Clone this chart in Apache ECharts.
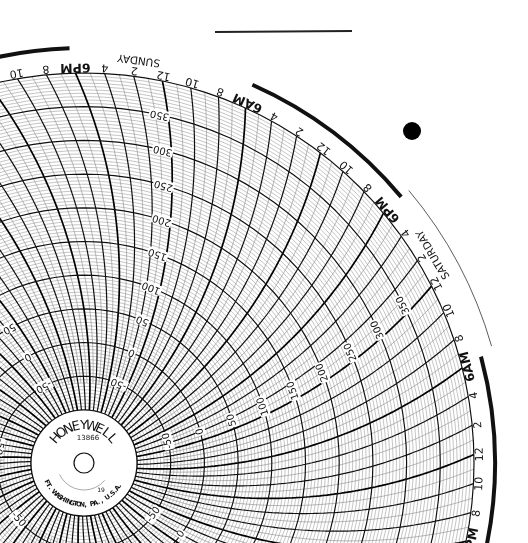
<!DOCTYPE html>
<html><head><meta charset="utf-8">
<script src="https://cdn.jsdelivr.net/npm/echarts@6/dist/echarts.min.js"></script>
<style>html,body{margin:0;padding:0;background:#fff}#c{width:528px;height:543px}</style>
</head><body><div id="c"></div>
<script>
// ---- data ----
const days = ['SUNDAY','MONDAY','TUESDAY','WEDNESDAY','THURSDAY','FRIDAY','SATURDAY'];
const radiusTickLabels = [-50,0,50,100,150,200,250,300,350];
const radiusMin = -100, radiusMax = 400;
const hoursPerChart = 168;
const sundayNoonAngle = 78.4;   // degrees, outer rim position of Sunday 12 noon

// ---- geometry helpers ----
const CX = 84, CY = 463, R_IN = 53, R_OUT = 390, RC = 500;
const pxPerUnit = (R_OUT - R_IN) / (radiusMax - radiusMin);
const axisMax = 440;
const R_AX = R_IN + (axisMax - radiusMin) * pxPerUnit;
function rpx(v){ return R_IN + (v - radiusMin) * pxPerUnit; }
function outerAngle(t){ return sundayNoonAngle + t * 360 / hoursPerChart; }
function curveAngle(t, v){
  const r = Math.max(rpx(v), 0.1);
  const off = (Math.acos(r/(2*RC)) - Math.acos(R_OUT/(2*RC))) * 180/Math.PI;
  return outerAngle(t) - off;
}
function timeLine(t, vStart){
  const pts = [];
  for (let v = vStart; v <= radiusMax; v += 5) pts.push([v, curveAngle(t, v)]);
  pts.push(null);
  return pts;
}
function circle(v){
  const pts = [];
  for (let a = 0; a <= 360; a += 3) pts.push([v, a]);
  pts.push(null);
  return pts;
}
function hourLabel(t){
  const h = ((12 + t) % 24 + 24) % 24;
  if (h === 0 || h === 12) return '12';
  if (h === 6) return '6AM';
  if (h === 18) return '6PM';
  return String(h % 12);
}
// ---- build series data ----
let fineCircles = [], boldCircles = [];
for (let v = radiusMin; v <= radiusMax; v += 5) {
  if (v % 50 === 0) boldCircles = boldCircles.concat(circle(v));
  else fineCircles = fineCircles.concat(circle(v));
}
let fineTime = [], twoHour = [], sixHour = [];
for (let t = 0; t < hoursPerChart; t++) {
  if (t % 6 === 0) sixHour = sixHour.concat(timeLine(t, radiusMin));
  else if (t % 2 === 0) twoHour = twoHour.concat(timeLine(t, radiusMin));
  else fineTime = fineTime.concat(timeLine(t, -60));
}
const labels = [];
for (let t = 0; t < hoursPerChart; t += 2) {
  const a = outerAngle(t);
  const txt = hourLabel(t);
  labels.push({value:[radiusMax + 9, a], txt, size: txt.length > 2 ? 12.5 : 11, bold: txt.length > 2});
}
for (let d = 0; d < 7; d++) {
  const t = d * 24 + 1.8;
  labels.push({value:[radiusMax + 25, outerAngle(t)], txt: days[d], size: 10.5, bold:false});
}
for (let d = 0; d < 7; d++) {
  for (const v of radiusTickLabels) {
    const a = curveAngle(d*24, v) + 180/Math.PI * 9/rpx(v);
    labels.push({value:[v, a], txt: String(v), size: 10, bold:false});
  }
}
labels.forEach(l => { l.rot = l.value[1] + 90; });

function lineSeries(data, width, color){
  return {type:'line', coordinateSystem:'polar', data, showSymbol:false, symbol:'none',
    connectNulls:false, silent:true, animation:false,
    lineStyle:{width, color}};
}

const chart = echarts.init(document.getElementById('c'), null, {renderer:'canvas'});

// hub text
const hub = [];
function arcText(str, r, a0, a1, size, upper, weight){
  const n = str.length;
  for (let i = 0; i < n; i++) {
    const a = (a0 + (a1 - a0) * (i + 0.5) / n) * Math.PI/180;
    const x = CX + r*Math.cos(a), y = CY - r*Math.sin(a);
    const rot = upper ? a - Math.PI/2 : a + Math.PI/2;
    hub.push({type:'text', x, y, rotation: rot, z:10,
      style:{text:str[i], fontSize:size, fontWeight:weight||'normal', fontFamily:'DejaVu Sans', fill:'#111', align:'center', verticalAlign:'middle'}});
  }
}
arcText('HONEYWELL', 37, 145, 35, 13, true);
arcText('FT. WASHINGTON, PA., U.S.A.', 42, 205, 330, 6.5, false, 'bold');
function arcShape(r, a0, a1, w, c){
  return {type:'arc', shape:{cx:CX, cy:CY, r, startAngle:-a0*Math.PI/180, endAngle:-a1*Math.PI/180, clockwise:false},
    style:{stroke:c, lineWidth:w, fill:null}, z:10};
}

chart.setOption({
  backgroundColor:'#fff',
  animation:false,
  polar:{center:[CX, CY], radius:[R_IN, R_AX]},
  angleAxis:{type:'value', min:0, max:360, startAngle:0, clockwise:false,
    axisLine:{show:false}, axisTick:{show:false}, axisLabel:{show:false}, splitLine:{show:false}},
  radiusAxis:{type:'value', min:radiusMin, max:axisMax,
    axisLine:{show:false}, axisTick:{show:false}, axisLabel:{show:false}, splitLine:{show:false}},
  series:[
    lineSeries(fineCircles, 0.5, '#8a8a8a'),
    lineSeries(fineTime, 0.6, '#8a8a8a'),
    lineSeries(twoHour, 1.2, '#111'),
    lineSeries(sixHour, 1.7, '#000'),
    lineSeries(boldCircles, 1.2, '#111'),
    {type:'custom', coordinateSystem:'polar', silent:true, animation:false, z:5,
     data: labels.map(l => l.value),
     renderItem(params, api){
       const l = labels[params.dataIndex];
       const p = api.coord([l.value[0], l.value[1]]);
       return {type:'text', x:p[0], y:p[1], rotation: l.rot*Math.PI/180,
         style:{text:l.txt, fontSize:l.size, fontWeight: l.bold ? 'bold':'normal', fontFamily:'DejaVu Sans',
           fill:'#111', backgroundColor: l.value[0] <= radiusMax ? '#fff' : null,
           align:'center', verticalAlign:'middle', padding:[0,1]}};
     }}
  ],
  graphic:[
    {type:'circle', shape:{cx:CX, cy:CY, r:R_IN}, style:{fill:'#fff', stroke:'#111', lineWidth:1.2}, z:9},
    {type:'circle', shape:{cx:CX, cy:CY, r:10}, style:{fill:'#fff', stroke:'#111', lineWidth:1.2}, z:10},
    arcShape(27, 205, 320, 1, '#aaa'),
    {type:'text', x:88, y:438, z:10, style:{text:'13866', fontSize:7, fontFamily:'DejaVu Sans', fill:'#111', align:'center', verticalAlign:'middle'}},
    {type:'text', x:101, y:490, z:10, style:{text:'19', fontSize:6, fontFamily:'DejaVu Sans', fill:'#111', align:'center', verticalAlign:'middle'}},
    arcShape(415, 92, 102, 4, '#111'),
    arcShape(414, 40, 66, 4, '#111'),
    arcShape(411, -12, 15, 4, '#111'),
    arcShape(424, 16, 40, 0.8, '#333'),
    {type:'line', shape:{x1:215, y1:32, x2:352, y2:31}, style:{stroke:'#222', lineWidth:2}, z:10},
    {type:'circle', shape:{cx:412, cy:131, r:9}, style:{fill:'#000'}, z:10}
  ].concat(hub)
});
</script></body></html>
